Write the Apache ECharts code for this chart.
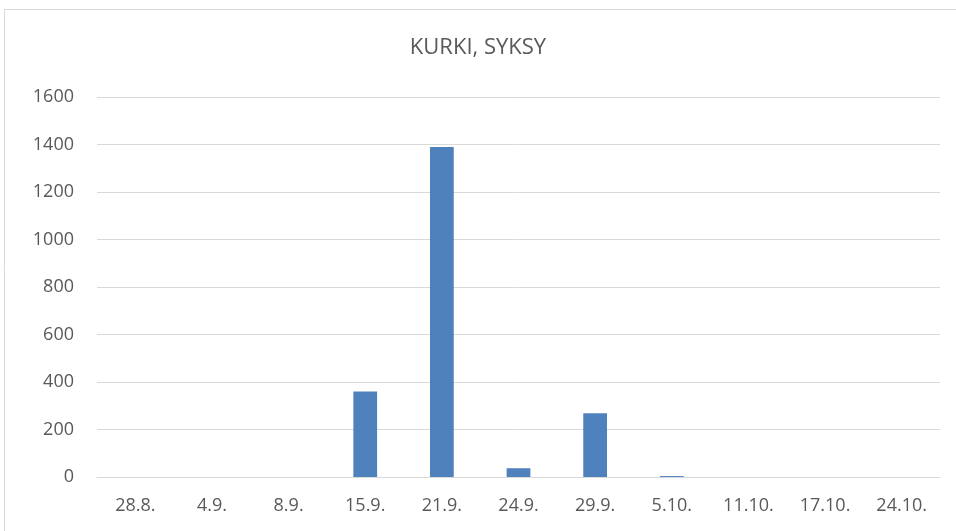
<!DOCTYPE html>
<html>
<head>
<meta charset="utf-8">
<script src="https://cdn.jsdelivr.net/npm/echarts@6/dist/echarts.min.js"></script>
<style>
  html, body { margin: 0; padding: 0; background: #fff; }
  #chart { width: 956px; height: 531px; }
</style>
</head>
<body>
<div id="chart"></div>
<script>
// data
var categories = ['28.8.', '4.9.', '8.9.', '15.9.', '21.9.', '24.9.', '29.9.', '5.10.', '11.10.', '17.10.', '24.10.'];
var counts = [0, 0, 0, 360, 1390, 37, 268, 4, 0, 0, 0];
var yMin = 0, yMax = 1600, yStep = 200;

var textColor = '#595959';
var font = "'Open Sans', sans-serif";

var chart = echarts.init(document.getElementById('chart'));
var option = {
  animation: false,
  title: {
    text: 'KURKI, SYKSY',
    left: 'center',
    top: 32,
    textStyle: { color: textColor, fontFamily: font, fontWeight: 'normal', fontSize: 22 }
  },
  graphic: [{
    type: 'rect',
    shape: { x: 4.5, y: 9.5, width: 960, height: 540 },
    style: { fill: 'none', stroke: '#d9d9d9', lineWidth: 1 },
    silent: true
  }],
  grid: { left: 97, right: 16, top: 97, bottom: 54 },
  xAxis: {
    type: 'category',
    data: categories,
    axisLine: { lineStyle: { color: '#d9d9d9' } },
    axisTick: { show: false },
    axisLabel: { color: textColor, fontFamily: font, fontSize: 18, margin: 20 }
  },
  yAxis: {
    type: 'value',
    min: yMin,
    max: yMax,
    interval: yStep,
    axisLine: { show: false },
    axisTick: { show: false },
    splitLine: { lineStyle: { color: '#d9d9d9' } },
    axisLabel: {
      color: textColor, fontFamily: font, fontSize: 18, margin: 23,
      formatter: function (v) { return String(v); }
    }
  },
  series: [{
    type: 'bar',
    data: counts,
    barWidth: '31%',
    itemStyle: { color: '#4f81bd' }
  }]
};
chart.setOption(option);
</script>
</body>
</html>
